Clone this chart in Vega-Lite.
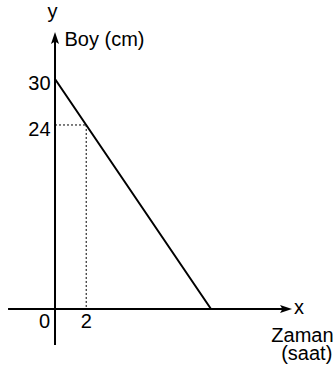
{
  "$schema": "https://vega.github.io/schema/vega-lite/v6.json",
  "width": 336,
  "height": 372,
  "autosize": "none",
  "padding": 0,
  "background": "white",
  "config": {"view": {"stroke": null}},
  "datasets": {
    "axes": [
      {"x": -3.01, "x2": 14.81, "y": 0, "y2": 0},
      {"x": 0, "x2": 0, "y": -4.7, "y2": 35.35}
    ],
    "arrows": [
      {"x": 14.81, "y": 0, "dir": "right"},
      {"x": 0, "y": 35.35, "dir": "up"}
    ],
    "line": [
      {"x": 0, "y": 30},
      {"x": 2, "y": 24},
      {"x": 10, "y": 0}
    ],
    "guides": [
      {"x": 0, "x2": 2, "y": 24, "y2": 24},
      {"x": 2, "x2": 2, "y": 24, "y2": 0}
    ],
    "yticks": [
      {"label": "30", "x": 0, "y": 30},
      {"label": "24", "x": 0, "y": 24}
    ],
    "xzero": [{"label": "0", "x": 0, "y": 0}],
    "xticks": [{"label": "2", "x": 2, "y": 0}],
    "labels": [
      {"label": "y", "x": -0.48, "y": 37.95},
      {"label": "Boy (cm)", "x": 0.61, "y": 34.24},
      {"label": "x", "x": 15.32, "y": -0.65},
      {"label": "Zaman", "x": 13.87, "y": -4.3},
      {"label": "(saat)", "x": 14.5, "y": -6.65}
    ]
  },
  "encoding": {
    "x": {"field": "x", "type": "quantitative", "axis": null,
          "scale": {"domain": [-3.526, 18.013], "nice": false, "zero": false}},
    "y": {"field": "y", "type": "quantitative", "axis": null,
          "scale": {"domain": [-8.217, 40.30], "nice": false, "zero": false}}
  },
  "layer": [
    {
      "data": {"name": "guides"},
      "mark": {"type": "rule", "color": "black", "strokeWidth": 1, "strokeDash": [2, 2]},
      "encoding": {"x2": {"field": "x2"}, "y2": {"field": "y2"}}
    },
    {
      "data": {"name": "axes"},
      "mark": {"type": "rule", "color": "black", "strokeWidth": 2},
      "encoding": {"x2": {"field": "x2"}, "y2": {"field": "y2"}}
    },
    {
      "data": {"name": "arrows"},
      "mark": {"type": "point", "filled": true, "color": "black", "size": 144, "opacity": 1},
      "encoding": {
        "shape": {"field": "dir", "type": "nominal", "legend": null,
                  "scale": {"domain": ["right", "up"],
                            "range": ["M1,0L-1,-0.67L-0.6,0L-1,0.67Z", "M0,-1L-0.67,1L0,0.6L0.67,1Z"]}}
      }
    },
    {
      "data": {"name": "line"},
      "mark": {"type": "line", "color": "black", "strokeWidth": 2}
    },
    {
      "data": {"name": "yticks"},
      "mark": {"type": "text", "font": "Liberation Sans", "fontSize": 20, "align": "right", "baseline": "alphabetic", "dx": -4.5, "dy": 11.5, "color": "black"},
      "encoding": {"text": {"field": "label"}}
    },
    {
      "data": {"name": "xzero"},
      "mark": {"type": "text", "font": "Liberation Sans", "fontSize": 20, "align": "right", "baseline": "alphabetic", "dx": -5, "dy": 19, "color": "black"},
      "encoding": {"text": {"field": "label"}}
    },
    {
      "data": {"name": "xticks"},
      "mark": {"type": "text", "font": "Liberation Sans", "fontSize": 20, "align": "center", "baseline": "alphabetic", "dy": 19, "color": "black"},
      "encoding": {"text": {"field": "label"}}
    },
    {
      "data": {"name": "labels"},
      "mark": {"type": "text", "font": "Liberation Sans", "fontSize": 20, "align": "left", "baseline": "alphabetic", "color": "black"},
      "encoding": {"text": {"field": "label"}}
    }
  ]
}
